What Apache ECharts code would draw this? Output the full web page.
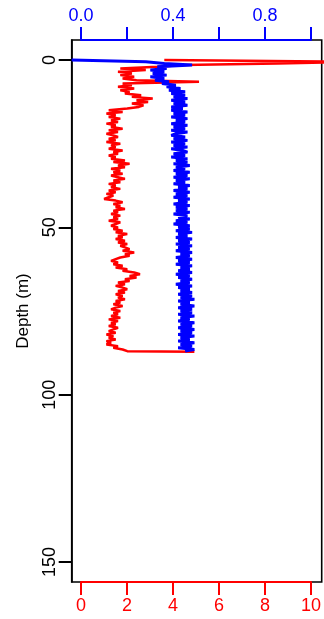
<!DOCTYPE html>
<html>
<head>
<meta charset="utf-8">
<script src="https://cdn.jsdelivr.net/npm/echarts@6/dist/echarts.min.js"></script>
<style>
html,body{margin:0;padding:0;background:#fff;}
#chart{width:324px;height:619px;}
</style>
</head>
<body>
<div id="chart"></div>
<script>
// Depth (m)
const depth = [
0,0.5,1,1.5,2,2.5,3,3.5,4,4.5,
5,5.5,6,6.5,7,7.5,8,8.5,9,9.5,
10,10.5,11,11.5,12,12.5,13,13.5,14,14.5,
15,15.5,16,16.5,17,17.5,18,18.5,19,19.5,
20,20.5,21,21.5,22,22.5,23,23.5,24,24.5,
25,25.5,26,26.5,27,27.5,28,28.5,29,29.5,
30,30.5,31,31.5,32,32.5,33,33.5,34,34.5,
35,35.5,36,36.5,37,37.5,38,38.5,39,39.5,
40,40.5,41,41.5,42,42.5,43,43.5,44,44.5,
45,45.5,46,46.5,47,47.5,48,48.5,49,49.5,
50,50.5,51,51.5,52,52.5,53,53.5,54,54.5,
55,55.5,56,56.5,57,57.5,58,58.5,59,59.5,
60,60.5,61,61.5,62,62.5,63,63.5,64,64.5,
65,65.5,66,66.5,67,67.5,68,68.5,69,69.5,
70,70.5,71,71.5,72,72.5,73,73.5,74,74.5,
75,75.5,76,76.5,77,77.5,78,78.5,79,79.5,
80,80.5,81,81.5,82,82.5,83,83.5,84,84.5,
85,85.5,86,86.5,87,87.2
];
// Red profile (bottom axis, 0-10)
const redValues = [
3.6,12.0,8.5,4.4,3.3,1.7,2.8,1.6,2.2,1.7,
2.3,1.8,2.4,5.1,1.8,2.2,1.6,2.3,1.7,2.1,
1.9,2.6,2.2,3.1,2.4,2.9,2.2,2.7,2.5,2.0,
1.2,1.8,1.1,1.5,1.2,1.7,1.3,1.6,1.1,1.5,
1.3,1.8,1.2,1.6,1.1,1.4,1.6,1.2,1.5,1.1,
1.7,1.3,1.5,1.2,1.8,1.4,1.6,1.2,1.5,1.3,
1.9,1.4,2.1,1.6,1.9,1.3,1.7,1.4,1.8,1.3,
1.6,1.9,1.4,1.7,1.2,1.5,1.3,1.7,1.2,1.5,
1.1,1.4,1.2,1.0,1.5,1.8,1.4,1.7,1.5,1.9,
1.4,1.6,1.3,1.7,1.4,1.6,1.2,1.7,1.5,1.3,
1.6,1.4,1.8,1.5,2.0,1.6,1.8,1.5,1.9,1.6,
2.0,1.7,1.9,2.1,1.8,2.3,1.9,2.1,1.7,1.5,
1.3,1.6,1.4,1.8,1.5,2.0,1.8,2.3,2.55,2.1,
2.4,1.9,2.1,1.6,1.9,1.5,1.8,2.0,1.6,1.9,
1.5,1.8,1.6,1.9,1.5,1.7,1.4,1.8,1.5,1.3,
1.7,1.4,1.6,1.3,1.7,1.2,1.6,1.3,1.5,1.2,
1.6,1.4,1.2,1.5,1.1,1.4,1.2,1.5,1.1,1.3,
1.1,1.6,1.4,1.8,2.0,4.9
];
// Blue profile (top axis, 0-1)
const blueValues = [
-0.04,0.28,0.36,0.48,0.33,0.37,0.30,0.36,0.31,0.37,
0.30,0.36,0.32,0.38,0.35,0.41,0.37,0.43,0.38,0.45,
0.39,0.45,0.40,0.46,0.39,0.45,0.40,0.46,0.39,0.44,
0.39,0.46,0.40,0.45,0.39,0.46,0.41,0.45,0.39,0.46,
0.40,0.45,0.39,0.46,0.41,0.39,0.45,0.40,0.46,0.39,
0.45,0.40,0.46,0.39,0.44,0.46,0.40,0.45,0.39,0.46,
0.41,0.46,0.40,0.47,0.41,0.45,0.40,0.47,0.41,0.46,
0.40,0.47,0.41,0.45,0.40,0.47,0.42,0.46,0.40,0.47,
0.41,0.46,0.40,0.47,0.42,0.46,0.40,0.47,0.41,0.46,
0.41,0.47,0.40,0.46,0.42,0.47,0.41,0.46,0.40,0.47,
0.42,0.47,0.41,0.48,0.42,0.46,0.41,0.48,0.42,0.47,
0.41,0.48,0.42,0.47,0.41,0.48,0.43,0.47,0.41,0.48,
0.42,0.47,0.41,0.48,0.43,0.47,0.42,0.48,0.41,0.47,
0.42,0.48,0.43,0.47,0.41,0.48,0.42,0.47,0.43,0.48,
0.42,0.48,0.43,0.49,0.42,0.47,0.43,0.49,0.42,0.48,
0.43,0.48,0.42,0.49,0.43,0.47,0.42,0.49,0.43,0.48,
0.42,0.49,0.43,0.48,0.42,0.49,0.43,0.47,0.42,0.49,
0.43,0.48,0.42,0.49,0.45,0.45
];
const depthTicks = [0, 50, 100, 150];
const topTickLabels = ['0.0', '0.4', '0.8'];
const yTitle = 'Depth (m)';

const FONT = 'Liberation Sans, Arial, sans-serif';
const redData = depth.map((d, i) => [redValues[i], d]);
const blueData = depth.map((d, i) => [blueValues[i], d]);

const chart = echarts.init(document.getElementById('chart'), null, {renderer: 'canvas'});
chart.setOption({
  animation: false,
  backgroundColor: '#fff',
  grid: [
    {left: 71.7, top: 40, width: 250, height: 542, show: true, borderColor: '#000', borderWidth: 1.6, backgroundColor: 'transparent', containLabel: false},
    {left: 81, top: 40, width: 231, height: 542, containLabel: false}
  ],
  xAxis: [
    {gridIndex: 0, type: 'value', position: 'bottom', min: -0.4, max: 10.4, show: false, axisLine: {onZero: false}},
    {gridIndex: 0, type: 'value', position: 'top', min: -0.04, max: 1.04, show: false, axisLine: {onZero: false}},
    {gridIndex: 1, type: 'value', position: 'bottom', min: 0, max: 10, interval: 2,
      axisLine: {show: true, onZero: false, lineStyle: {color: '#ff0000', width: 2}},
      axisTick: {show: true, length: 13, lineStyle: {color: '#ff0000', width: 2}},
      axisLabel: {show: true, color: '#ff0000', fontSize: 18, fontFamily: FONT, margin: 15, showMinLabel: true, showMaxLabel: true, hideOverlap: false},
      splitLine: {show: false}},
    {gridIndex: 1, type: 'value', position: 'top', min: 0, max: 1, interval: 0.2,
      axisLine: {show: true, onZero: false, lineStyle: {color: '#0000ff', width: 2}},
      axisTick: {show: true, length: 13, lineStyle: {color: '#0000ff', width: 2}},
      axisLabel: {show: true, color: '#0000ff', fontSize: 18, fontFamily: FONT, margin: 15, showMinLabel: true, showMaxLabel: true, hideOverlap: false,
        formatter: v => { const s = Number(v).toFixed(1); return topTickLabels.includes(s) ? s : ''; }},
      splitLine: {show: false}}
  ],
  yAxis: [
    {gridIndex: 0, type: 'value', inverse: true, min: -6, max: 156,
      name: yTitle, nameLocation: 'middle', nameRotate: 90, nameGap: 40,
      nameTextStyle: {color: '#000', fontSize: 17, fontFamily: FONT},
      axisLine: {show: true, onZero: false, lineStyle: {color: '#000', width: 1.6}},
      axisTick: {show: true, length: 13, customValues: depthTicks, lineStyle: {color: '#000', width: 2}},
      axisLabel: {show: true, rotate: 90, customValues: depthTicks, color: '#000', fontSize: 18, fontFamily: FONT, margin: 13},
      splitLine: {show: false}},
    {gridIndex: 1, type: 'value', min: 0, max: 1, show: false, axisLine: {onZero: false}}
  ],
  series: [
    {type: 'line', xAxisIndex: 0, yAxisIndex: 0, data: redData, showSymbol: false, symbol: 'none',
      lineStyle: {color: '#ff0000', width: 2.5}, clip: true, z: 2},
    {type: 'line', xAxisIndex: 1, yAxisIndex: 0, data: blueData, showSymbol: false, symbol: 'none',
      lineStyle: {color: '#0000ff', width: 3}, clip: true, z: 3}
  ]
});
</script>
</body>
</html>
